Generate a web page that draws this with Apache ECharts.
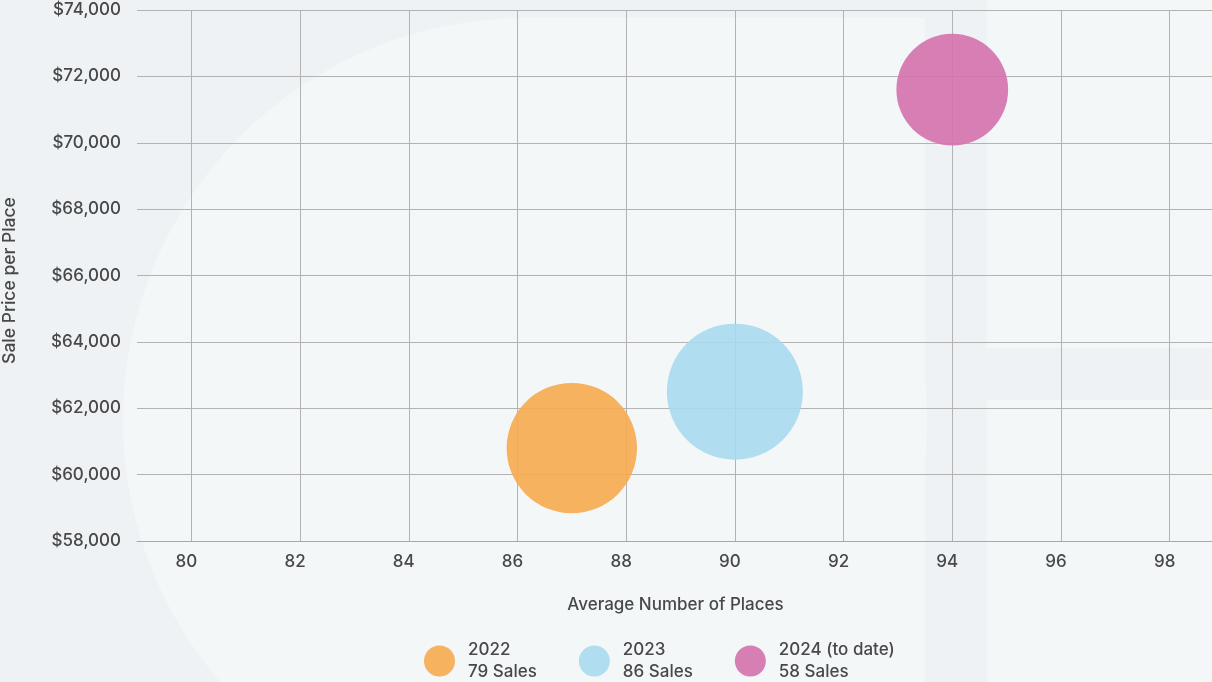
<!DOCTYPE html>
<html>
<head>
<meta charset="utf-8">
<script src="https://cdn.jsdelivr.net/npm/echarts@6/dist/echarts.min.js"></script>
<style>
html,body{margin:0;padding:0;background:#eef2f5;}
#c{width:1212px;height:682px;}
</style>
</head>
<body>
<div id="c"></div>
<script>
const seriesNames = ['2022', '2023', '2024 (to date)'];
const avgPlaces = [87, 90, 94];
const pricePerPlace = [60800, 62500, 71600];
const salesCount = [79, 86, 58];
const xTicks = [80, 82, 84, 86, 88, 90, 92, 94, 96, 98];
const yTicks = [58000, 60000, 62000, 64000, 66000, 68000, 70000, 72000, 74000];
const colors = ['#f6aa4e', '#a8d9ed', '#d471ad'];

const FONT = 'Inter';
const TXT = '#484848';
const chart = echarts.init(document.getElementById('c'), null, {renderer: 'canvas'});

const series = seriesNames.map((name, i) => ({
  name: name,
  type: 'scatter',
  data: [[avgPlaces[i], pricePerPlace[i], salesCount[i]]],
  symbolSize: d => 14.67 * Math.sqrt(d[2]),
  itemStyle: {color: colors[i], opacity: 0.9},
  emphasis: {disabled: true}
}));

const light = '#f4f7f8';
chart.setOption({
  backgroundColor: '#eef2f5',
  animation: false,
  textStyle: {fontFamily: FONT},
  graphic: [
    {type: 'circle', z: -10, silent: true, shape: {cx: 525, cy: 420, r: 402}, style: {fill: light}},
    {type: 'rect', z: -10, silent: true, shape: {x: 525, y: 18, width: 400, height: 700}, style: {fill: light}},
    {type: 'rect', z: -10, silent: true, shape: {x: 987, y: 0, width: 240, height: 348}, style: {fill: light}},
    {type: 'rect', z: -10, silent: true, shape: {x: 987, y: 400, width: 240, height: 300}, style: {fill: light}}
  ],
  grid: {left: 137, top: 10, width: 1087, height: 531, containLabel: false, outerBoundsMode: 'none'},
  xAxis: {
    type: 'value',
    min: 79, max: 99,
    name: 'Average Number of Places',
    nameLocation: 'middle',
    nameGap: 55,
    nameTextStyle: {color: TXT, fontSize: 17, fontWeight: 500, fontFamily: FONT, padding: [0, 10, 0, 0]},
    axisLine: {show: true, lineStyle: {color: '#a9a9a9', width: 1}},
    axisTick: {show: false, customValues: xTicks},
    axisLabel: {customValues: xTicks, color: TXT, fontSize: 17, fontWeight: 500, margin: 12, padding: [0, 10, 0, 0], fontFamily: FONT},
    splitLine: {show: true, lineStyle: {color: '#b3b3b3', width: 1}}
  },
  yAxis: {
    type: 'value',
    min: yTicks[0], max: yTicks[yTicks.length - 1], interval: yTicks[1] - yTicks[0],
    name: 'Sale Price per Place',
    nameLocation: 'middle',
    nameGap: 118,
    nameTextStyle: {color: TXT, fontSize: 17.5, fontWeight: 500, fontFamily: FONT, padding: [0, 10, 0, 0]},
    axisLine: {show: false},
    axisTick: {show: false},
    axisLabel: {
      color: TXT, fontSize: 17, fontWeight: 500, margin: 16, fontFamily: FONT,
      formatter: v => '$' + v.toLocaleString('en-US')
    },
    splitLine: {show: true, lineStyle: {color: '#b3b3b3', width: 1}}
  },
  legend: {
    left: 424, top: 639,
    padding: 0,
    icon: 'circle',
    itemWidth: 31, itemHeight: 31,
    itemGap: 42,
    data: seriesNames,
    formatter: name => name + '\n' + salesCount[seriesNames.indexOf(name)] + ' Sales',
    textStyle: {color: TXT, fontSize: 17, fontWeight: 500, lineHeight: 22, padding: [0, 0, 0, 8], fontFamily: FONT}
  },
  series: series
});
</script>
</body>
</html>
